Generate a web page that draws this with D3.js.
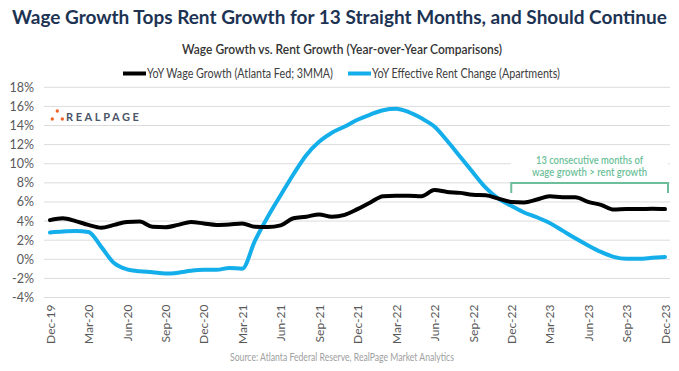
<!DOCTYPE html>
<html>
<head>
<meta charset="utf-8">
<script src="https://cdn.jsdelivr.net/npm/d3@7"></script>
<style>
  body { margin: 0; background: #fff; }
  svg { display: block; font-family: Lato, "Noto Sans", sans-serif; }
</style>
</head>
<body>
<svg id="chart"></svg>
<script>
// Data (monthly, Dec-19 .. Dec-23)
const months = d3.timeMonth.range(new Date(2019, 11, 1), new Date(2024, 0, 1));
const wageGrowth = [
  4.1, 4.3, 4.0, 3.6, 3.3, 3.6, 3.9, 3.95, 3.4, 3.35, 3.6, 3.9,
  3.75, 3.6, 3.65, 3.75, 3.4, 3.38, 3.55, 4.3, 4.45, 4.7, 4.45, 4.65,
  5.25, 5.95, 6.6, 6.65, 6.65, 6.6, 7.25, 7.05, 6.95, 6.75, 6.7, 6.35,
  6.0, 5.95, 6.25, 6.6, 6.5, 6.5, 6.0, 5.7, 5.2, 5.25, 5.25, 5.3, 5.25
];
const rentChange = [
  2.8, 2.9, 2.95, 2.85, 1.3, -0.4, -1.05, -1.25, -1.35, -1.5, -1.4, -1.2,
  -1.1, -1.1, -0.9, -1.0, 1.95, 4.45, 6.7, 8.9, 10.9, 12.3, 13.25, 13.9,
  14.6, 15.15, 15.6, 15.75, 15.4, 14.75, 13.9, 12.4, 10.75, 9.1, 7.5, 6.35,
  5.6, 4.9, 4.4, 3.8, 3.0, 2.2, 1.45, 0.77, 0.25, 0.05, 0.05, 0.15, 0.25
];
const yTicks = [-4, -2, 0, 2, 4, 6, 8, 10, 12, 14, 16, 18];
const seriesNames = ["YoY Wage Growth (Atlanta Fed; 3MMA)", "YoY Effective Rent Change (Apartments)"];
const colors = ["#000000", "#14aeea"];

// Configuration
const W = 679, H = 371;
const plot = { left: 44, right: 670, x0: 50, x1: 665, top: 87.3, bottom: 297.5 };
const formatMonth = d3.timeFormat("%b-%y");

const svg = d3.select("#chart").attr("width", W).attr("height", H);

// squeeze a text to a given width (the source image text is a bit narrow)
function fit(sel, width) {
  if (sel.node().getComputedTextLength() > width) {
    sel.attr("textLength", width).attr("lengthAdjust", "spacingAndGlyphs");
  }
  return sel;
}

// Scales
const x = d3.scalePoint().domain(months.map(d => +d)).range([plot.x0, plot.x1]);
const y = d3.scaleLinear().domain([-4, 18]).range([plot.bottom, plot.top]);

// Title
const title = svg.append("text")
  .attr("x", 12).attr("y", 24)
  .attr("font-size", 20).attr("font-weight", 700).attr("fill", "#1d3353")
  .text("Wage Growth Tops Rent Growth for 13 Straight Months, and Should Continue");
const tw = title.node().getComputedTextLength();
title.attr("font-size", 20 * 655 / tw);

fit(svg.append("text")
  .attr("x", 182).attr("y", 54)
  .attr("font-size", 12.5).attr("font-weight", 600).attr("fill", "#333")
  .text("Wage Growth vs. Rent Growth (Year-over-Year Comparisons)"), 320);

// Legend
const legendPos = [123, 348];
const legendWidth = [186, 188];
seriesNames.forEach((name, i) => {
  const g = svg.append("g").attr("transform", `translate(${legendPos[i]},73.5)`);
  g.append("line").attr("x1", 0).attr("x2", 23).attr("stroke", colors[i]).attr("stroke-width", 4);
  fit(g.append("text").attr("x", 24).attr("y", 4.5)
    .attr("font-size", 12.5).attr("fill", "#404040").text(name), legendWidth[i]);
});

// Gridlines
svg.append("g").selectAll("line").data(yTicks).join("line")
  .attr("x1", plot.left).attr("x2", plot.right)
  .attr("y1", d => y(d)).attr("y2", d => y(d))
  .attr("stroke", "#dcdcdc").attr("stroke-width", 1);

// Y axis labels
svg.append("g").selectAll("text").data(yTicks).join("text")
  .attr("x", 34).attr("y", d => y(d) + 4.5).attr("text-anchor", "end")
  .attr("font-size", 12.5).attr("fill", "#595959")
  .text(d => d + "%");

// X axis labels
const xAxis = d3.axisBottom(x)
  .tickValues(months.filter((d, i) => i % 3 === 0).map(d => +d))
  .tickFormat(d => formatMonth(new Date(d)))
  .tickSize(0);
const gx = svg.append("g").attr("transform", `translate(0,${plot.bottom})`).call(xAxis);
gx.select(".domain").remove();
gx.selectAll("text")
  .attr("font-family", "Lato, sans-serif").attr("font-size", 12).attr("fill", "#595959")
  .style("text-anchor", "end")
  .attr("dx", "-7px").attr("dy", "0.35em").attr("y", 0).attr("x", 0)
  .attr("transform", "rotate(-90)");

// Logo
const logo = svg.append("g");
[[57.3, 111], [52.3, 119], [62.3, 119]].forEach(p => {
  logo.append("circle").attr("cx", p[0]).attr("cy", p[1]).attr("r", 1.7).attr("fill", "#f0622a");
});
logo.append("text").attr("x", 66).attr("y", 120.5)
  .attr("font-size", 11).attr("font-weight", 700).attr("letter-spacing", 2.6)
  .attr("fill", "#4a5568").text("REALPAGE");

// Annotation box (hides gridline behind text)
svg.append("rect").attr("x", 511).attr("y", 151).attr("width", 157).attr("height", 27).attr("fill", "#fff");
const annLines = [["13 consecutive months of", 536, 163.5, 107], ["wage growth > rent growth", 532, 176, 115]];
annLines.forEach(a => {
  fit(svg.append("text").attr("x", a[1]).attr("y", a[2])
    .attr("font-size", 10.5).attr("font-weight", 600).attr("fill", "#6cbf9a")
    .text(a[0]), a[3]);
});
const bx0 = x(+months[36]), bx1 = x(+months[48]) + 3;
svg.append("path")
  .attr("d", `M${bx0},193 V183 H${bx1} V193`)
  .attr("fill", "none").attr("stroke", "#6cbf9a").attr("stroke-width", 2);

// Lines
const line = d3.line()
  .x((d, i) => x(+months[i]))
  .y(d => y(d))
  .curve(d3.curveMonotoneX);

[rentChange, wageGrowth].forEach((series, k) => {
  svg.append("path")
    .datum(series)
    .attr("d", line)
    .attr("fill", "none")
    .attr("stroke", k === 0 ? colors[1] : colors[0])
    .attr("stroke-width", 4)
    .attr("stroke-linejoin", "round")
    .attr("stroke-linecap", "round");
});

// Source
fit(svg.append("text").attr("x", 230).attr("y", 361)
  .attr("font-size", 10.5).attr("fill", "#a0a0a0")
  .text("Source: Atlanta Federal Reserve, RealPage Market Analytics"), 224);
</script>
</body>
</html>
